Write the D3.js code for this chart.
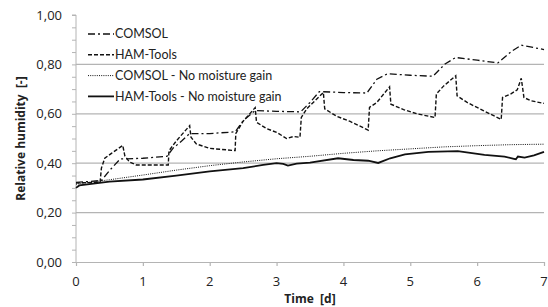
<!DOCTYPE html>
<html>
<head>
<meta charset="utf-8">
<script src="https://cdn.jsdelivr.net/npm/d3@7"></script>
<style>
  body { margin: 0; background: #fff; }
  text { font-family: "Open Sans", "Noto Sans", sans-serif; fill: #222; }
  .legend text { font-family: Lato, "Open Sans", sans-serif; }
</style>
</head>
<body>
<svg id="chart" width="548" height="307"></svg>
<script>
// series: [time in days, relative humidity]
const comsol = [[0,0.322],[0.38,0.33],[0.5,0.37],[0.66,0.417],[1.0,0.42],[1.36,0.428],[1.45,0.46],
  [1.58,0.49],[1.7,0.52],[2.0,0.52],[2.38,0.527],[2.5,0.572],[2.68,0.613],[3.0,0.61],[3.36,0.608],
  [3.5,0.646],[3.64,0.69],[4.0,0.686],[4.35,0.684],[4.5,0.74],[4.66,0.762],[5.0,0.756],[5.34,0.752],
  [5.52,0.802],[5.68,0.828],[6.0,0.817],[6.31,0.806],[6.52,0.854],[6.66,0.878],[7.0,0.86]];

const hamTools = [[0,0.32],[0.36,0.323],[0.38,0.38],[0.43,0.42],[0.53,0.44],[0.7,0.472],[0.73,0.43],
  [0.8,0.405],[0.9,0.393],[1.38,0.393],[1.39,0.45],[1.5,0.49],[1.7,0.552],[1.72,0.505],[1.8,0.478],
  [2.0,0.46],[2.38,0.451],[2.39,0.52],[2.5,0.57],[2.68,0.625],[2.7,0.566],[2.85,0.54],[3.0,0.525],
  [3.15,0.5],[3.25,0.508],[3.35,0.505],[3.37,0.585],[3.45,0.62],[3.7,0.686],[3.72,0.62],[3.9,0.59],
  [4.1,0.569],[4.37,0.534],[4.39,0.626],[4.5,0.646],[4.69,0.709],[4.71,0.639],[4.9,0.617],[5.1,0.6],
  [5.37,0.585],[5.39,0.68],[5.5,0.713],[5.68,0.754],[5.7,0.673],[5.85,0.646],[6.1,0.612],[6.36,0.577],
  [6.38,0.666],[6.5,0.68],[6.6,0.697],[6.66,0.744],[6.7,0.666],[6.8,0.653],[7.0,0.642]];

const comsolNoGain = [[0,0.315],[0.5,0.333],[1,0.352],[1.5,0.372],[2,0.39],[2.5,0.405],[3,0.418],
  [3.5,0.428],[4,0.44],[4.5,0.45],[5,0.458],[5.5,0.466],[6,0.471],[6.5,0.475],[7,0.477]];

const hamNoGain = [[0,0.3],[0.05,0.31],[0.5,0.325],[1.0,0.334],[1.5,0.35],[2.0,0.367],[2.5,0.38],
  [2.8,0.393],[3.0,0.4],[3.1,0.397],[3.17,0.39],[3.3,0.398],[3.5,0.402],[3.92,0.42],[4.15,0.413],
  [4.37,0.41],[4.52,0.401],[4.7,0.42],[4.92,0.436],[5.27,0.446],[5.71,0.449],[6.11,0.434],
  [6.41,0.427],[6.55,0.418],[6.58,0.416],[6.61,0.427],[6.71,0.423],[6.85,0.432],[7.0,0.446]];

const xTicks = [0, 1, 2, 3, 4, 5, 6, 7];
const yTicks = [0, 0.2, 0.4, 0.6, 0.8, 1.0];
const legendNames = ["COMSOL", "HAM-Tools", "COMSOL - No moisture gain", "HAM-Tools - No moisture gain"];

const W = 548, H = 307;
const m = { left: 76, right: 4, top: 15, bottom: 45 };
const gridColor = "#b4b4b4";

const svg = d3.select("#chart");
const x = d3.scaleLinear().domain([0, 7]).range([m.left, W - m.right]);
const y = d3.scaleLinear().domain([0, 1]).range([H - m.bottom, m.top]);

// horizontal gridlines (not at 0 and 1)
svg.append("g").selectAll("line")
  .data(yTicks.filter(d => d > 0 && d < 1))
  .join("line")
  .attr("x1", x(0)).attr("x2", x(7))
  .attr("y1", d => y(d)).attr("y2", d => y(d))
  .attr("stroke", gridColor).attr("stroke-width", 1.2);

// y axis with minor ticks every 0.05
const yAxis = svg.append("g")
  .attr("transform", `translate(${x(0)},0)`)
  .call(d3.axisLeft(y).tickValues(d3.range(0, 1.0001, 0.05)).tickSize(4).tickFormat(""));
yAxis.selectAll("line, path").attr("stroke", gridColor);
yAxis.select("path").attr("d", `M-4,${y(1)}H0V${y(0)}`);

svg.append("g").selectAll("text")
  .data(yTicks)
  .join("text")
  .attr("x", 62).attr("y", d => y(d)).attr("dy", "0.35em")
  .attr("text-anchor", "end").attr("font-size", 13)
  .text(d => d3.format(".2f")(d).replace(".", ","));

// x axis
const xAxis = svg.append("g")
  .attr("transform", `translate(0,${y(0)})`)
  .call(d3.axisBottom(x).tickValues(xTicks).tickSize(4).tickSizeOuter(0).tickFormat(""));
xAxis.selectAll("line, path").attr("stroke", gridColor).attr("stroke-width", 1.2);

svg.append("g").selectAll("text")
  .data(xTicks)
  .join("text")
  .attr("x", d => x(d)).attr("y", y(0) + 19).attr("dy", "0.35em")
  .attr("text-anchor", "middle").attr("font-size", 13)
  .text(d => d);

// axis titles
svg.append("text")
  .attr("x", x(3.5)).attr("y", 299).attr("dy", "0.35em")
  .attr("text-anchor", "middle").attr("font-size", 12).attr("font-weight", "bold")
  .attr("xml:space", "preserve")
  .text("Time  [d]");

svg.append("text")
  .attr("transform", `translate(21,${y(0.5)}) rotate(-90)`)
  .attr("dy", "0.35em")
  .attr("text-anchor", "middle").attr("font-size", 12).attr("font-weight", "bold")
  .attr("xml:space", "preserve")
  .text("Relative humidity  [-]");

// series
const styles = [
  { data: comsol, dash: "7,3,2,3", width: 1.3 },
  { data: hamTools, dash: "4,2", width: 1.4 },
  { data: comsolNoGain, dash: "1,1.2", width: 1 },
  { data: hamNoGain, dash: null, width: 1.8 }
];

const line = d3.line().x(d => x(d[0])).y(d => y(d[1]));

svg.append("g").selectAll("path")
  .data(styles)
  .join("path")
  .attr("d", d => line(d.data))
  .attr("fill", "none")
  .attr("stroke", "#111")
  .attr("stroke-width", d => d.width)
  .attr("stroke-dasharray", d => d.dash);

// legend
const leg = svg.append("g").attr("class", "legend").selectAll("g")
  .data(styles)
  .join("g")
  .attr("transform", (d, i) => `translate(88,${34 + i * 20.8})`);

leg.append("line")
  .attr("x1", 0).attr("x2", 26)
  .attr("stroke", "#111")
  .attr("stroke-width", d => d.width)
  .attr("stroke-dasharray", d => d.dash);

leg.append("text")
  .attr("x", 27).attr("dy", "0.35em")
  .attr("font-size", 12.5)
  .text((d, i) => legendNames[i]);
</script>
</body>
</html>
